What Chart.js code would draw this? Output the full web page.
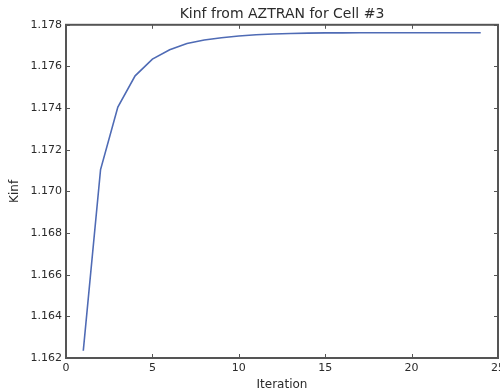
<!DOCTYPE html>
<html>
<head>
<meta charset="utf-8">
<script src="https://cdn.jsdelivr.net/npm/chart.js@4.4.0/dist/chart.umd.min.js"></script>
<style>
	html, body { margin: 0; padding: 0; background: #fff; overflow: hidden; }
	.chart-container { position: relative; width: 500px; height: 392px; }
</style>
</head>
<body>
<div class="chart-container"><canvas></canvas></div>
<script>
// values
const iterations = [1, 2, 3, 4, 5, 6, 7, 8, 9, 10, 11, 12, 13, 14, 15, 16, 17, 18, 19, 20, 21, 22, 23, 24];
const kinf = [
	1.16235, 1.17105, 1.17405, 1.17555, 1.17635, 1.17680, 1.17710, 1.17727,
	1.17738, 1.17746, 1.17752, 1.17756, 1.17758, 1.17760, 1.17761, 1.17761,
	1.17762, 1.17762, 1.17762, 1.17762, 1.17762, 1.17762, 1.17762, 1.17762
];
const xTicks = [0, 5, 10, 15, 20, 25];
const yTicks = [1.162, 1.164, 1.166, 1.168, 1.170, 1.172, 1.174, 1.176, 1.178];

const textColor = "#2b2b2b";
const frameColor = "#555";
const font = "'DejaVu Sans', sans-serif";

// matplotlib-like frame with inward ticks on all four sides
const framePlugin = {
	id: "frame",
	afterDraw(chart) {
		const { ctx, chartArea: a, scales } = chart;
		const len = 4;
		ctx.save();
		ctx.strokeStyle = frameColor;
		ctx.lineWidth = 1;
		for (const v of xTicks) {
			const x = Math.round(scales.x.getPixelForValue(v)) + 0.5;
			ctx.beginPath();
			ctx.moveTo(x, a.bottom);
			ctx.lineTo(x, a.bottom - len);
			ctx.moveTo(x, a.top);
			ctx.lineTo(x, a.top + len);
			ctx.stroke();
		}
		for (const v of yTicks) {
			const y = Math.round(scales.y.getPixelForValue(v)) + 0.5;
			ctx.beginPath();
			ctx.moveTo(a.left, y);
			ctx.lineTo(a.left + len, y);
			ctx.moveTo(a.right, y);
			ctx.lineTo(a.right - len, y);
			ctx.stroke();
		}
		ctx.lineWidth = 2;
		ctx.strokeRect(a.left, a.top, a.right - a.left, a.bottom - a.top);
		ctx.restore();
	}
};

new Chart(document.querySelector(".chart-container canvas"), {
	type: "line",
	data: {
		datasets: [
			{
				data: iterations.map((x, i) => ({ x, y: kinf[i] })),
				borderColor: "#4f6bb5",
				borderWidth: 1.6,
				pointRadius: 0,
				tension: 0,
				fill: false
			}
		]
	},
	options: {
		responsive: true,
		maintainAspectRatio: false,
		animation: false,
		layout: { padding: { top: 0, right: 2, bottom: 0, left: 0 } },
		scales: {
			x: {
				type: "linear",
				min: 0,
				max: 25,
				grid: { display: false, drawTicks: false },
				border: { display: false },
				afterBuildTicks(scale) {
					scale.ticks = xTicks.map(value => ({ value }));
				},
				afterFit(scale) {
					scale.height = 34;
					scale.paddingRight = 0;
					scale.paddingLeft = 0;
				},
				ticks: {
					color: textColor,
					padding: 4,
					maxRotation: 0,
					autoSkip: false,
					font: { family: font, size: 11 }
				},
				title: {
					display: true,
					text: "Iteration",
					color: textColor,
					padding: { top: 0, bottom: 0 },
					font: { family: font, size: 12 }
				}
			},
			y: {
				min: 1.162,
				max: 1.178,
				grid: { display: false, drawTicks: false },
				border: { display: false },
				afterBuildTicks(scale) {
					scale.ticks = yTicks.map(value => ({ value }));
				},
				afterFit(scale) {
					scale.width = 66;
				},
				ticks: {
					color: textColor,
					padding: 4,
					autoSkip: false,
					font: { family: font, size: 11 },
					callback: v => v.toFixed(3)
				},
				title: {
					display: true,
					text: "Kinf",
					color: textColor,
					padding: { top: 8, bottom: 0 },
					font: { family: font, size: 12 }
				}
			}
		},
		plugins: {
			legend: { display: false },
			tooltip: { enabled: false },
			title: {
				display: true,
				fullSize: false,
				text: "Kinf from AZTRAN for Cell #3",
				color: textColor,
				padding: { top: 6, bottom: 2 },
				font: { family: font, size: 14, weight: "normal" }
			}
		}
	},
	plugins: [framePlugin]
});
</script>
</body>
</html>
